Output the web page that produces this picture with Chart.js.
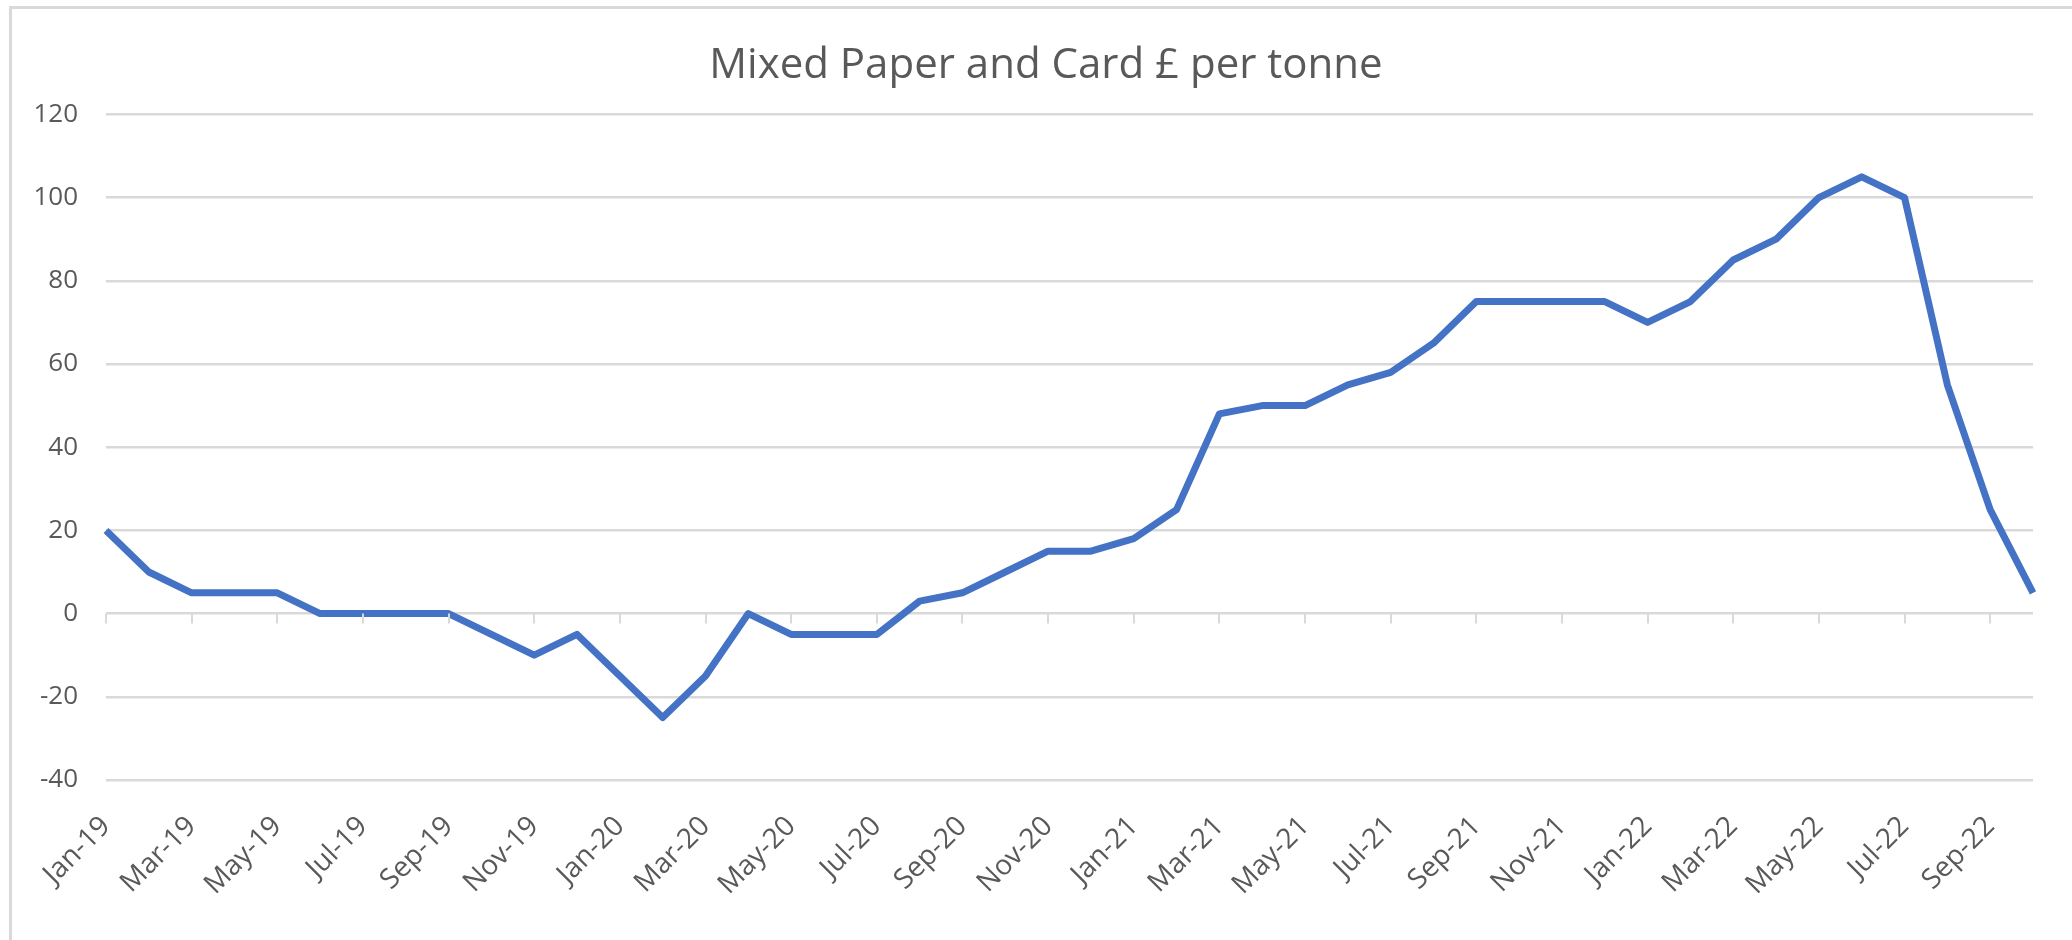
<!DOCTYPE html>
<html>
<head>
<meta charset="utf-8">
<title>Mixed Paper and Card £ per tonne</title>
<script src="https://cdn.jsdelivr.net/npm/chart.js@4/dist/chart.umd.min.js"></script>
<style>
  html, body { margin: 0; padding: 0; background: #fff; overflow: hidden; }
  #frame {
    position: absolute; left: 9px; top: 6px; width: 2100px; height: 1000px;
    border-top: 3px solid #d9d9d9; border-left: 3px solid #d9d9d9;
  }
  #chart { position: absolute; left: 0; top: 0; }
</style>
</head>
<body>
<div id="frame"></div>
<canvas id="chart" width="2072" height="940"></canvas>
<script>
// monthly prices, Jan-19 .. Oct-22
const months = [
  'Jan-19', 'Feb-19', 'Mar-19', 'Apr-19', 'May-19', 'Jun-19', 'Jul-19', 'Aug-19', 'Sep-19', 'Oct-19', 'Nov-19', 'Dec-19',
  'Jan-20', 'Feb-20', 'Mar-20', 'Apr-20', 'May-20', 'Jun-20', 'Jul-20', 'Aug-20', 'Sep-20', 'Oct-20', 'Nov-20', 'Dec-20',
  'Jan-21', 'Feb-21', 'Mar-21', 'Apr-21', 'May-21', 'Jun-21', 'Jul-21', 'Aug-21', 'Sep-21', 'Oct-21', 'Nov-21', 'Dec-21',
  'Jan-22', 'Feb-22', 'Mar-22', 'Apr-22', 'May-22', 'Jun-22', 'Jul-22', 'Aug-22', 'Sep-22', 'Oct-22'
];

const pricePerTonne = [
  20, 10, 5, 5, 5, 0, 0, 0, 0, -5, -10, -5,
  -15, -25, -15, 0, -5, -5, -5, 3, 5, 10, 15, 15,
  18, 25, 48, 50, 50, 55, 58, 65, 75, 75, 75, 75,
  70, 75, 85, 90, 100, 105, 100, 55, 25, 5
];

const yTicks = [-40, -20, 0, 20, 40, 60, 80, 100, 120];

const textGrey = '#595959';
const gridGrey = '#d9d9d9';

// small tick marks on the zero line, every other month (Excel style)
const zeroTicks = {
  id: 'zeroTicks',
  afterDraw(chart) {
    const xs = chart.scales.x, ys = chart.scales.y;
    const y0 = ys.getPixelForValue(0);
    const ctx = chart.ctx;
    ctx.save();
    ctx.strokeStyle = gridGrey;
    ctx.lineWidth = 2;
    ctx.beginPath();
    for (let i = 0; i < months.length; i += 2) {
      const x = Math.round(xs.getPixelForValue(i));
      ctx.moveTo(x, y0);
      ctx.lineTo(x, y0 + 10);
    }
    ctx.stroke();
    ctx.restore();
  }
};

new Chart(document.getElementById('chart'), {
  type: 'line',
  data: {
    labels: months,
    datasets: [{
      label: 'Mixed Paper and Card',
      data: pricePerTonne,
      borderColor: '#4472C4',
      borderWidth: 7,
      pointRadius: 0,
      tension: 0,
      borderJoinStyle: 'round'
    }]
  },
  options: {
    responsive: false,
    animation: false,
    // left padding of 20 keeps the title centred where the original has it
    layout: { padding: { left: 20, right: 0, top: 0, bottom: 0 } },
    plugins: {
      legend: { display: false },
      tooltip: { enabled: false },
      title: {
        display: true,
        text: 'Mixed Paper and Card £ per tonne',
        color: textGrey,
        font: { family: 'Open Sans', size: 42, weight: 'normal' },
        padding: { top: 41, bottom: 23 }
      }
    },
    scales: {
      x: {
        grid: { display: false, drawTicks: false },
        border: { display: false },
        ticks: {
          autoSkip: false,
          maxRotation: 45,
          minRotation: 45,
          padding: 30,
          color: textGrey,
          font: { family: 'Open Sans', size: 28 },
          callback: (v, i) => (i % 2 === 0 ? months[i] : '')
        },
        afterFit(scale) {
          scale.height = 160;
          scale.paddingRight = 39;
        }
      },
      y: {
        min: -40,
        max: 120,
        afterBuildTicks(scale) { scale.ticks = yTicks.map(v => ({ value: v })); },
        grid: { color: gridGrey, lineWidth: 2.5, drawTicks: false },
        border: { display: false },
        ticks: {
          padding: 28,
          color: textGrey,
          font: { family: 'Open Sans', size: 26 }
        },
        afterFit(scale) { scale.width = 86; }
      }
    }
  },
  plugins: [zeroTicks]
});
</script>
</body>
</html>
